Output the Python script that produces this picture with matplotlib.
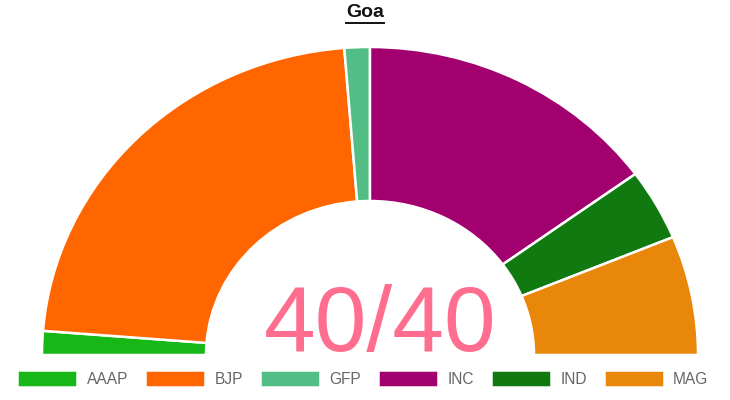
import matplotlib.pyplot as plt
from matplotlib.lines import Line2D

# seats per party, Goa (40 total)
parties = ['AAAP', 'BJP', 'GFP', 'INC', 'IND', 'MAG']
seats = [1, 18, 1, 12, 3, 5]
colors = ['#16b716', '#ff6600', '#52be85', '#a3006f', '#107a10', '#e8870a']
total = sum(seats)

plt.rcParams['font.family'] = ['Liberation Sans', 'DejaVu Sans']

fig = plt.figure(figsize=(7.3, 4), dpi=100)
ax = fig.add_axes([42 / 730, 45 / 400, 656 / 730, 308 / 400])

# hidden slice fills the lower half so the visible arc spans 180 degrees
wedges, _ = ax.pie(seats + [total], colors=colors + ['white'],
                   startangle=180, counterclock=False, radius=1,
                   wedgeprops=dict(width=0.5, edgecolor='white', linewidth=1.8))
wedges[-1].set_visible(False)
ax.set_aspect('auto')
ax.set_xlim(-1, 1)
ax.set_ylim(0, 1)
for w in wedges:
    w.set_clip_on(False)

ax.text(0.03, 0.09, f'{total}/{total}', color='#ff6e8f', fontsize=67,
        ha='center', va='center')

title = fig.text(0.5, 0.968, 'Goa', ha='center', va='center',
                 fontsize=14, fontweight='bold', color='#111111')

leg = fig.legend(wedges[:6], parties, loc='center', bbox_to_anchor=(0.497, 0.053),
                 ncol=6, frameon=False, fontsize=11.2, handlelength=3.85,
                 handleheight=1.3, handletextpad=0.6, columnspacing=1.1)
for t in leg.get_texts():
    t.set_color('#666666')

# underline the title
fig.canvas.draw()
bb = title.get_window_extent().transformed(fig.transFigure.inverted())
fig.add_artist(Line2D([bb.x0, bb.x1], [bb.y0 - 0.003, bb.y0 - 0.003],
                      color='#111111', linewidth=1.4))

fig.savefig('out.png', dpi=100)
